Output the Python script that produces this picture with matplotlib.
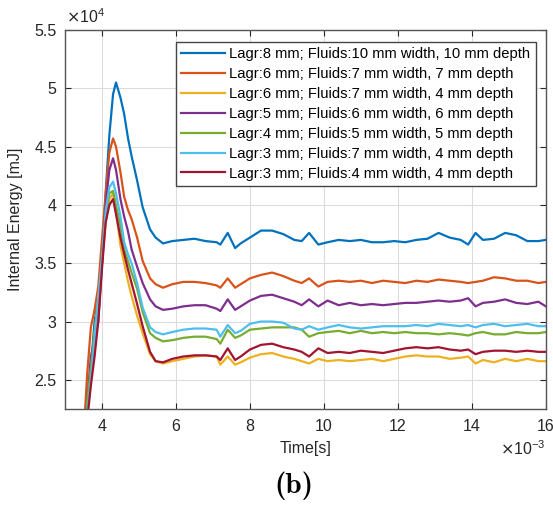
import matplotlib
matplotlib.use('Agg')
import matplotlib.pyplot as plt

plt.rcParams['font.family'] = ['Liberation Sans', 'DejaVu Sans']

# time in ms (axis shows x10^-3 s), energy in 1e4 mJ
t = [3.5, 3.6, 3.7, 3.8, 3.9, 4.0, 4.1, 4.2, 4.3, 4.38, 4.5, 4.6, 4.7, 4.8, 4.95,
     5.1, 5.3, 5.45, 5.65, 5.9, 6.2, 6.5, 6.8, 7.1, 7.2, 7.4, 7.6, 7.75, 8.0, 8.3,
     8.6, 8.9, 9.2, 9.4, 9.6, 9.85, 10.1, 10.4, 10.7, 11.0, 11.3, 11.6, 11.9, 12.2,
     12.5, 12.8, 13.1, 13.4, 13.7, 13.9, 14.1, 14.3, 14.6, 14.9, 15.2, 15.5, 15.8, 16.0]

e_blue = [2.0, 2.2, 2.6, 3.0, 3.2, 3.5, 4.1, 4.6, 4.95, 5.05, 4.92, 4.78, 4.58, 4.42, 4.21,
          3.98, 3.79, 3.72, 3.67, 3.69, 3.70, 3.71, 3.69, 3.68, 3.66, 3.76, 3.63, 3.67, 3.72, 3.78,
          3.78, 3.75, 3.70, 3.69, 3.76, 3.66, 3.68, 3.70, 3.69, 3.70, 3.68, 3.68, 3.69, 3.68,
          3.70, 3.71, 3.76, 3.72, 3.70, 3.66, 3.76, 3.70, 3.71, 3.76, 3.74, 3.69, 3.69, 3.70]
e_orange = [2.0, 2.55, 2.95, 3.1, 3.3, 3.7, 4.1, 4.45, 4.57, 4.5, 4.28, 4.07, 3.96, 3.88, 3.72,
            3.52, 3.37, 3.32, 3.29, 3.32, 3.34, 3.34, 3.33, 3.31, 3.29, 3.37, 3.29, 3.32, 3.37, 3.40,
            3.42, 3.39, 3.35, 3.33, 3.37, 3.30, 3.34, 3.35, 3.34, 3.35, 3.33, 3.35, 3.34, 3.33,
            3.35, 3.34, 3.36, 3.35, 3.34, 3.33, 3.34, 3.35, 3.38, 3.37, 3.35, 3.35, 3.33, 3.34]
e_yellow = [2.0, 2.2, 2.55, 2.9, 3.2, 3.5, 3.85, 4.05, 4.1, 3.95, 3.65, 3.5, 3.35, 3.22, 3.05,
            2.90, 2.72, 2.66, 2.64, 2.66, 2.68, 2.70, 2.71, 2.70, 2.63, 2.70, 2.63, 2.65, 2.69, 2.72,
            2.73, 2.70, 2.68, 2.66, 2.64, 2.68, 2.66, 2.67, 2.66, 2.67, 2.68, 2.66, 2.68, 2.70,
            2.71, 2.70, 2.70, 2.68, 2.69, 2.70, 2.64, 2.67, 2.65, 2.68, 2.66, 2.68, 2.66, 2.66]
e_purple = [2.0, 2.3, 2.7, 2.85, 3.0, 3.5, 4.0, 4.3, 4.40, 4.3, 4.05, 3.9, 3.78, 3.62, 3.47,
            3.33, 3.19, 3.13, 3.10, 3.11, 3.13, 3.14, 3.14, 3.11, 3.09, 3.19, 3.10, 3.13, 3.18, 3.22,
            3.23, 3.20, 3.17, 3.14, 3.19, 3.13, 3.18, 3.14, 3.16, 3.14, 3.15, 3.14, 3.15, 3.16,
            3.16, 3.17, 3.18, 3.17, 3.18, 3.20, 3.13, 3.16, 3.17, 3.19, 3.16, 3.15, 3.17, 3.13]
e_green = [2.0, 2.3, 2.6, 2.9, 3.15, 3.5, 3.9, 4.1, 4.12, 4.0, 3.82, 3.62, 3.52, 3.42, 3.28,
           3.08, 2.90, 2.86, 2.83, 2.84, 2.86, 2.87, 2.87, 2.85, 2.81, 2.93, 2.86, 2.88, 2.93, 2.94,
           2.95, 2.95, 2.95, 2.93, 2.87, 2.90, 2.91, 2.92, 2.90, 2.92, 2.90, 2.91, 2.90, 2.91,
           2.90, 2.90, 2.89, 2.90, 2.89, 2.88, 2.90, 2.91, 2.89, 2.89, 2.91, 2.90, 2.90, 2.91]
e_cyan = [2.0, 2.2, 2.5, 2.85, 3.2, 3.55, 3.95, 4.15, 4.20, 4.1, 3.90, 3.68, 3.58, 3.50, 3.33,
          3.12, 2.95, 2.91, 2.89, 2.91, 2.93, 2.94, 2.94, 2.93, 2.87, 2.97, 2.90, 2.92, 2.98, 3.00,
          3.00, 2.99, 2.94, 2.93, 2.96, 2.93, 2.95, 2.97, 2.95, 2.94, 2.95, 2.96, 2.96, 2.96,
          2.97, 2.96, 2.98, 2.97, 2.96, 2.97, 2.95, 2.97, 2.98, 2.96, 2.97, 2.98, 2.96, 2.96]
e_red = [2.0, 2.15, 2.45, 2.7, 3.0, 3.45, 3.85, 4.0, 4.05, 3.92, 3.72, 3.58, 3.45, 3.33, 3.15,
         2.96, 2.74, 2.66, 2.65, 2.68, 2.70, 2.71, 2.71, 2.70, 2.67, 2.77, 2.67, 2.70, 2.76, 2.80,
         2.81, 2.78, 2.76, 2.74, 2.70, 2.77, 2.73, 2.74, 2.73, 2.75, 2.74, 2.73, 2.75, 2.77,
         2.78, 2.77, 2.78, 2.76, 2.75, 2.76, 2.72, 2.74, 2.75, 2.75, 2.74, 2.75, 2.74, 2.74]

labels = ['Lagr:8 mm; Fluids:10 mm width, 10 mm depth',
          'Lagr:6 mm; Fluids:7 mm width, 7 mm depth',
          'Lagr:6 mm; Fluids:7 mm width, 4 mm depth',
          'Lagr:5 mm; Fluids:6 mm width, 6 mm depth',
          'Lagr:4 mm; Fluids:5 mm width, 5 mm depth',
          'Lagr:3 mm; Fluids:7 mm width, 4 mm depth',
          'Lagr:3 mm; Fluids:4 mm width, 4 mm depth']
series = [e_blue, e_orange, e_yellow, e_purple, e_green, e_cyan, e_red]
colors = ['#0072BD', '#D95319', '#EDB120', '#7E2F8E', '#77AC30', '#4DBEEE', '#A2142F']

fig = plt.figure(figsize=(5.53, 5.09), dpi=100)
ax = fig.add_axes([0.1175, 0.1965, 0.8695, 0.7445])

for e, c, lab in zip(series, colors, labels):
    ax.plot(t, e, color=c, lw=1.6, label=lab)

ax.set_xlim(3, 16)
ax.set_ylim(2.25, 5.5)
ax.set_xticks([4, 6, 8, 10, 12, 14, 16])
ax.set_xticklabels(['4', '6', '8', '10', '12', '14', '16'])
ax.set_yticks([2.5, 3, 3.5, 4, 4.5, 5, 5.5])
ax.set_yticklabels(['2.5', '3', '3.5', '4', '4.5', '5', '5.5'])
ax.tick_params(direction='in', top=True, right=True, labelsize=11.5, colors='#262626', length=4)
ax.tick_params(axis='x', pad=7)
ax.tick_params(axis='y', pad=6)
ax.grid(True, color='#dcdcdc', lw=0.8)
for s in ax.spines.values():
    s.set_color('#555555')
    s.set_linewidth(1.0)

ax.set_xlabel('Time[s]', fontsize=11.5, color='#262626', labelpad=5)
ax.set_ylabel('Internal Energy [mJ]', fontsize=11.5, color='#262626', labelpad=8)

ax.text(0.002, 1.01, r'$\times\mathregular{10^{4}}$', transform=ax.transAxes,
        fontsize=11.5, color='#262626', ha='left', va='bottom')
ax.text(1.0, -0.08, r'$\times\mathregular{10^{-3}}$', transform=ax.transAxes,
        fontsize=11.5, color='#262626', ha='right', va='top')

leg = ax.legend(loc='upper right', bbox_to_anchor=(0.979, 0.968), fontsize=10.6,
                frameon=True, fancybox=False, edgecolor='#444444', framealpha=1,
                handlelength=3.0, labelspacing=0.4, borderpad=0.35, handletextpad=0.3,
                borderaxespad=0)
leg.get_frame().set_linewidth(1.0)

fig.text(0.532, 0.045, '(b)', fontsize=21, family=['cmb10', 'DejaVu Serif'],
         ha='center', va='center')

fig.savefig('out.png', dpi=100)
